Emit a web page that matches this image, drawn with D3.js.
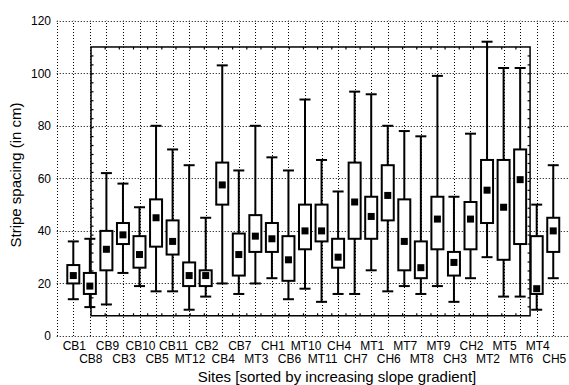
<!DOCTYPE html>
<html>
<head>
<meta charset="utf-8">
<script src="https://cdn.jsdelivr.net/npm/d3@7"></script>
<style>
  html, body { margin: 0; padding: 0; background: #fff; }
  svg { display: block; font-family: "Liberation Sans", Arial, Helvetica, sans-serif; }
</style>
</head>
<body>
<svg id="chart" width="569" height="385"></svg>
<script>
// ---- data ----
const sites = ["CB1","CB8","CB9","CB3","CB10","CB5","CB11","MT12","CB2","CB4",
               "CB7","MT3","CH1","CB6","MT10","MT11","CH4","CH7","MT1","CH6",
               "MT7","MT8","MT9","CH3","CH2","MT2","MT5","MT6","MT4","CH5"];
const whiskerLow  = [14,11,12,24,19,17,17,10,15,20, 16,20,22,14,18,13,16,16,25,17, 19,16,19,13,22,30,15,15,10,22];
const q1          = [20,16,25,35,26,34,31,19,19,50, 23,32,32,21,33,36,26,37,37,44, 25,22,33,23,33,43,29,35,16,32];
const medians     = [23,19,33,38.5,31,45,36,23,23,57.5, 31,38,37,29,40,40,30,51,45.5,53.5, 36,26,44.5,28,44.5,55.5,49,59.5,18,40];
const q3          = [27,24,40,43,38,52,44,28,25,66, 39,46,43,38,50,50,37,66,53,65, 52,36,53,32,51,67,67,71,38,45];
const whiskerHigh = [36,37,62,58,49,80,71,65,45,103, 63,80,68,63,90,67,55,93,92,80, 78,76,99,53,77,112,102,102,50,65];
const yTicks = [0,20,40,60,80,100,120];
const yLabel = "Stripe spacing (in cm)";
const xLabel = "Sites [sorted by increasing slope gradient]";

// ---- layout ----
const svg = d3.select("#chart");
const x = d3.scaleLinear().domain([0, 31]).range([56.75, 569.8]);
const y = d3.scaleLinear().domain([0, 120]).range([336, 20.7]);
const frame = {x0: 2.07, x1: 28.6, y0: 7.7, y1: 110};

// dotted grid: horizontal
const grid = svg.append("g").attr("stroke", "#000").attr("stroke-width", 1)
  .attr("stroke-dasharray", "1,2").attr("fill", "none");
grid.selectAll("line.h").data(yTicks).enter().append("line")
  .attr("x1", x(0)).attr("x2", 569)
  .attr("y1", d => Math.round(y(d)) + 0.5).attr("y2", d => Math.round(y(d)) + 0.5);
// vertical (left edge + one per site)
grid.selectAll("line.v").data(d3.range(0, sites.length + 1)).enter().append("line")
  .attr("x1", d => Math.round(x(d)) + 0.5).attr("x2", d => Math.round(x(d)) + 0.5)
  .attr("y1", y(0)).attr("y2", y(120));

// frame rectangle with inward ticks
const fg = svg.append("g").attr("stroke", "#000").attr("fill", "none");
const fx0 = x(frame.x0), fx1 = x(frame.x1), fy0 = y(frame.y0), fy1 = y(frame.y1);
fg.append("rect").attr("x", fx0).attr("y", fy1).attr("width", fx1 - fx0).attr("height", fy0 - fy1)
  .attr("stroke-width", 1.5);
const nH = 31, nV = 30, tl = 2.5;
d3.range(1, nH).forEach(i => {
  const xx = fx0 + (fx1 - fx0) * i / nH;
  fg.append("line").attr("x1", xx).attr("x2", xx).attr("y1", fy1).attr("y2", fy1 + tl).attr("stroke-width", 1.2);
  fg.append("line").attr("x1", xx).attr("x2", xx).attr("y1", fy0).attr("y2", fy0 - tl).attr("stroke-width", 1.2);
});
d3.range(1, nV).forEach(i => {
  const yy = fy1 + (fy0 - fy1) * i / nV;
  fg.append("line").attr("x1", fx0).attr("x2", fx0 + tl).attr("y1", yy).attr("y2", yy).attr("stroke-width", 1.2);
  fg.append("line").attr("x1", fx1).attr("x2", fx1 - tl).attr("y1", yy).attr("y2", yy).attr("stroke-width", 1.2);
});

// boxes
const boxW = 12, capW = 11, sq = 7;
const bx = svg.append("g");
sites.forEach((s, i) => {
  const cx = x(i + 1);
  const g = bx.append("g");
  g.append("line").attr("x1", cx).attr("x2", cx).attr("y1", y(whiskerHigh[i])).attr("y2", y(q3[i]))
    .attr("stroke", "#000").attr("stroke-width", 2);
  g.append("line").attr("x1", cx).attr("x2", cx).attr("y1", y(q1[i])).attr("y2", y(whiskerLow[i]))
    .attr("stroke", "#000").attr("stroke-width", 2);
  g.append("line").attr("x1", cx - capW / 2).attr("x2", cx + capW / 2)
    .attr("y1", y(whiskerHigh[i])).attr("y2", y(whiskerHigh[i])).attr("stroke", "#000").attr("stroke-width", 2);
  g.append("line").attr("x1", cx - capW / 2).attr("x2", cx + capW / 2)
    .attr("y1", y(whiskerLow[i])).attr("y2", y(whiskerLow[i])).attr("stroke", "#000").attr("stroke-width", 2);
  g.append("rect").attr("x", cx - boxW / 2).attr("y", y(q3[i])).attr("width", boxW)
    .attr("height", y(q1[i]) - y(q3[i])).attr("fill", "#fff").attr("stroke", "#000").attr("stroke-width", 2);
  g.append("rect").attr("x", cx - sq / 2).attr("y", y(medians[i]) - sq / 2).attr("width", sq).attr("height", sq)
    .attr("fill", "#000");
});

// y tick labels
svg.append("g").selectAll("text").data(yTicks).enter().append("text")
  .attr("x", 51).attr("y", d => y(d)).attr("dy", "0.36em")
  .attr("text-anchor", "end").attr("font-size", 12).text(d => d);

// x tick labels (alternating rows)
svg.append("g").selectAll("text").data(sites).enter().append("text")
  .attr("x", (d, i) => x(i + 1) + 1)
  .attr("y", (d, i) => i % 2 === 0 ? 350 : 363)
  .attr("text-anchor", "middle").attr("font-size", 12).text(d => d);

// axis titles
svg.append("text").attr("x", 337).attr("y", 382).attr("text-anchor", "middle")
  .attr("font-size", 15).text(xLabel);
svg.append("text").attr("transform", "translate(21,175) rotate(-90)").attr("text-anchor", "middle")
  .attr("font-size", 15).text(yLabel);
</script>
</body>
</html>
